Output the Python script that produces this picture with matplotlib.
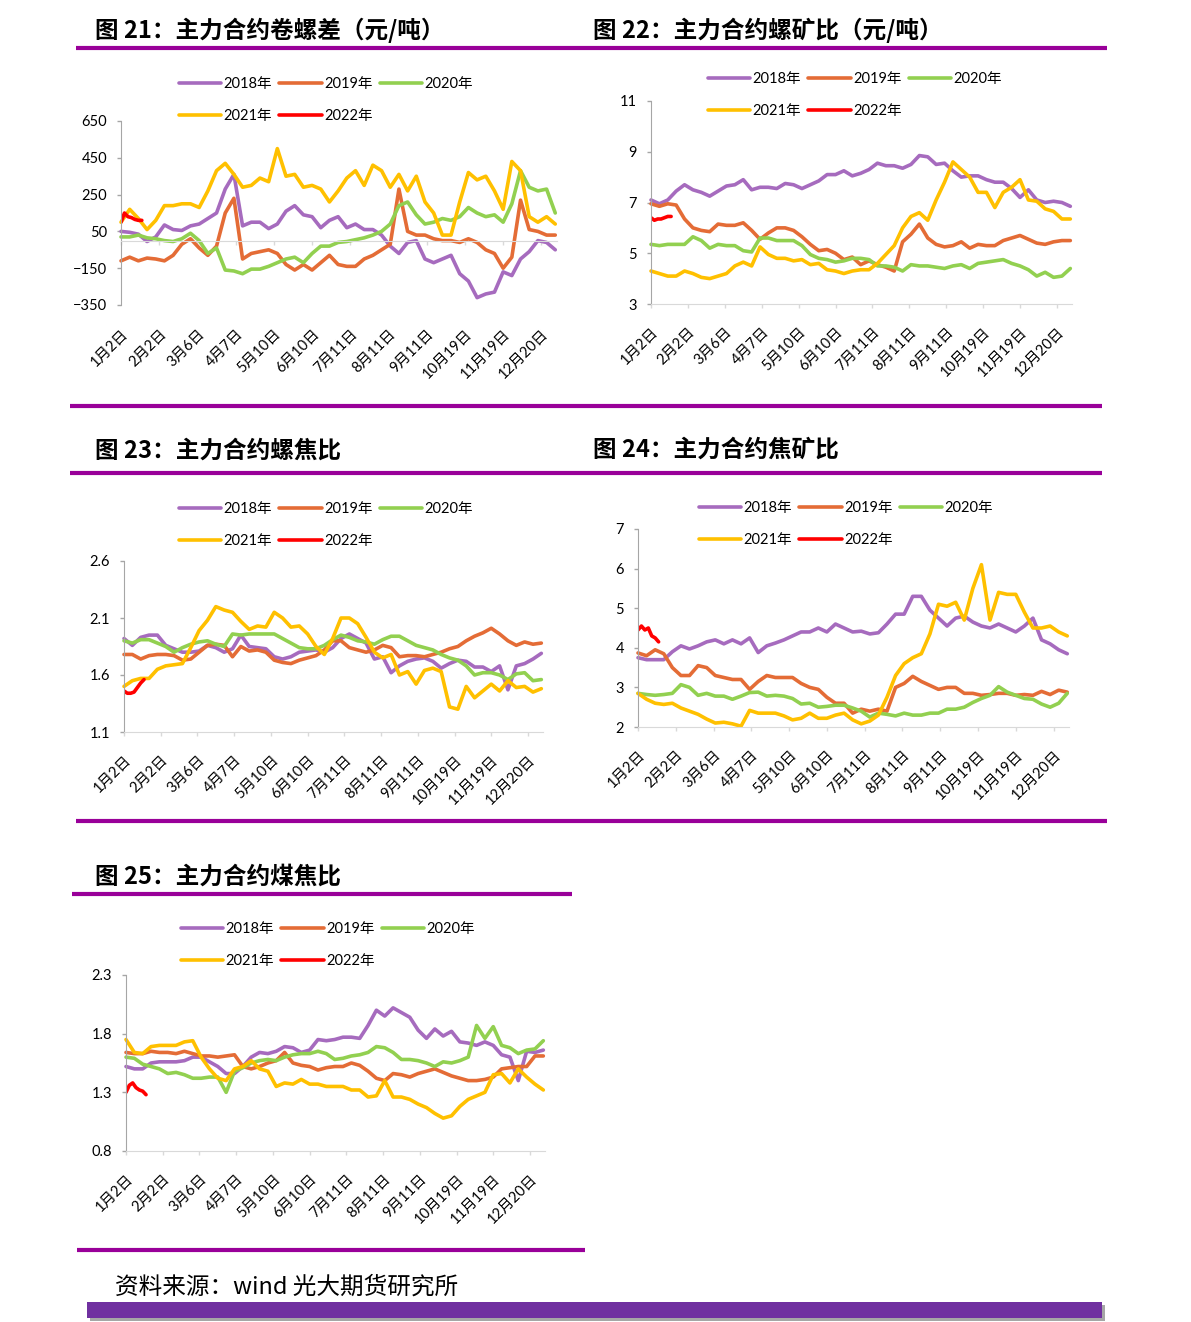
import numpy as np
import matplotlib.pyplot as plt
from matplotlib.lines import Line2D
from matplotlib.patches import Rectangle

plt.rcParams['font.family'] = ['Lato', 'Noto Sans CJK SC']
plt.rcParams['axes.unicode_minus'] = True

W, H = 1191, 1322

years = ['2018年', '2019年', '2020年', '2021年', '2022年']
colors = ['#A66BBE', '#E46C36', '#92D050', '#FFC000', '#FF0000']
tick_days = [0, 22, 44, 66, 88, 110, 132, 154, 176, 198, 220, 242]
tick_labels = ['1月2日', '2月2日', '3月6日', '4月7日', '5月10日', '6月10日',
               '7月11日', '8月11日', '9月11日', '10月19日', '11月19日', '12月20日']

step = 5                          # one value every 5 trading days
red_days = [0, 2, 4, 6, 8, 10, 12]

# 图21 卷螺差
jl_2018 = [50, 45, 35, -5, 20, 85, 60, 55, 80, 90, 120, 150, 280, 360, 80, 100, 100, 65, 90, 160,
           190, 140, 130, 70, 110, 130, 70, 90, 60, 60, 30, -30, -70, -10, 0, -100, -120, -100, -80, -180,
           -220, -310, -290, -280, -170, -190, -100, -60, 0, -10, -50]
jl_2019 = [-110, -90, -110, -95, -100, -110, -80, -20, 10, -40, -80, -30, 150, 230, -100, -70, -60, -50, -70, -130,
           -160, -130, -160, -120, -80, -130, -140, -140, -100, -80, -50, -20, 280, 50, 30, 30, 10, 0, 0, -10,
           10, -10, -50, -70, -150, -90, 220, 60, 50, 30, 30]
jl_2020 = [20, 20, 30, 15, 10, 0, -5, 10, 40, 0, -70, -40, -160, -165, -180, -155, -155, -140, -120, -100,
           -90, -120, -70, -30, -30, -10, -5, 5, 15, 30, 50, 90, 190, 210, 140, 90, 100, 120, 110, 130,
           180, 150, 130, 140, 100, 200, 380, 290, 270, 280, 150]
jl_2021 = [100, 170, 120, 60, 110, 190, 190, 200, 200, 180, 270, 380, 420, 360, 290, 300, 340, 320, 500, 350,
           360, 290, 300, 280, 210, 270, 340, 380, 300, 410, 380, 290, 360, 270, 350, 210, 150, 30, 30, 210,
           370, 330, 350, 270, 170, 430, 380, 130, 100, 130, 90]
jl_2022 = [100, 150, 130, 125, 115, 110, 110]

# 图22 螺矿比
lk_2018 = [7.1, 6.95, 7.1, 7.45, 7.7, 7.5, 7.4, 7.25, 7.45, 7.65, 7.7, 7.9, 7.5, 7.6, 7.6, 7.55, 7.75, 7.7, 7.55, 7.7,
           7.85, 8.1, 8.1, 8.25, 8.05, 8.15, 8.3, 8.55, 8.45, 8.45, 8.35, 8.5, 8.85, 8.8, 8.5, 8.55, 8.25, 8.0, 8.05, 8.05,
           7.9, 7.8, 7.8, 7.55, 7.2, 7.5, 7.1, 7.0, 7.05, 7.0, 6.85]
lk_2019 = [6.95, 6.85, 6.95, 6.9, 6.35, 6.0, 5.9, 5.85, 6.15, 6.1, 6.1, 6.2, 5.9, 5.55, 5.8, 6.0, 6.0, 5.9, 5.65, 5.35,
           5.1, 5.15, 5.0, 4.75, 4.85, 4.55, 4.7, 4.55, 4.45, 4.3, 5.45, 5.75, 6.15, 5.6, 5.35, 5.25, 5.3, 5.45, 5.2, 5.35,
           5.3, 5.3, 5.5, 5.6, 5.7, 5.55, 5.4, 5.35, 5.45, 5.5, 5.5]
lk_2020 = [5.35, 5.3, 5.35, 5.35, 5.35, 5.65, 5.5, 5.2, 5.35, 5.3, 5.3, 5.1, 5.05, 5.6, 5.6, 5.5, 5.5, 5.5, 5.3, 4.95,
           4.8, 4.75, 4.65, 4.7, 4.8, 4.8, 4.75, 4.5, 4.5, 4.45, 4.3, 4.55, 4.5, 4.5, 4.45, 4.4, 4.5, 4.55, 4.4, 4.6,
           4.65, 4.7, 4.75, 4.6, 4.5, 4.35, 4.1, 4.25, 4.05, 4.1, 4.4]
lk_2021 = [4.3, 4.2, 4.1, 4.1, 4.3, 4.2, 4.05, 4.0, 4.1, 4.2, 4.5, 4.65, 4.5, 5.25, 4.95, 4.8, 4.8, 4.7, 4.75, 4.55,
           4.6, 4.35, 4.3, 4.2, 4.3, 4.35, 4.35, 4.6, 4.95, 5.3, 6.0, 6.45, 6.6, 6.3, 7.1, 7.8, 8.6, 8.3, 8.0, 7.4,
           7.4, 6.8, 7.4, 7.6, 7.9, 7.1, 7.05, 6.75, 6.65, 6.35, 6.35]
lk_2022 = [6.4, 6.3, 6.35, 6.35, 6.4, 6.45, 6.45]

# 图23 螺焦比
lj_2018 = [1.92, 1.86, 1.93, 1.95, 1.95, 1.86, 1.83, 1.8, 1.8, 1.81, 1.86, 1.84, 1.8, 1.83, 1.95, 1.85, 1.84, 1.83, 1.76, 1.74,
           1.76, 1.8, 1.81, 1.82, 1.8, 1.84, 1.92, 1.96, 1.92, 1.88, 1.74, 1.76, 1.62, 1.68, 1.72, 1.74, 1.75, 1.72, 1.66, 1.7,
           1.73, 1.72, 1.67, 1.67, 1.63, 1.68, 1.47, 1.68, 1.7, 1.74, 1.79]
lj_2019 = [1.78, 1.78, 1.74, 1.77, 1.78, 1.78, 1.77, 1.73, 1.74, 1.8, 1.86, 1.87, 1.86, 1.76, 1.85, 1.81, 1.82, 1.8, 1.73, 1.71,
           1.7, 1.73, 1.75, 1.77, 1.82, 1.9, 1.9, 1.84, 1.82, 1.8, 1.82, 1.86, 1.84, 1.76, 1.77, 1.77, 1.76, 1.78, 1.8, 1.83,
           1.85, 1.9, 1.94, 1.97, 2.01, 1.96, 1.9, 1.86, 1.89, 1.87, 1.88]
lj_2020 = [1.9, 1.88, 1.91, 1.91, 1.88, 1.85, 1.8, 1.84, 1.87, 1.89, 1.9, 1.87, 1.85, 1.96, 1.95, 1.96, 1.96, 1.96, 1.96, 1.92,
           1.88, 1.84, 1.83, 1.83, 1.86, 1.91, 1.95, 1.93, 1.9, 1.89, 1.87, 1.91, 1.94, 1.94, 1.9, 1.86, 1.84, 1.82, 1.78, 1.75,
           1.73, 1.68, 1.6, 1.62, 1.62, 1.6, 1.56, 1.61, 1.62, 1.55, 1.56]
lj_2021 = [1.5, 1.55, 1.57, 1.57, 1.65, 1.68, 1.69, 1.7, 1.84, 1.99, 2.08, 2.2, 2.17, 2.15, 2.07, 2.0, 2.03, 2.02, 2.15, 2.1,
           2.02, 2.03, 1.96, 1.85, 1.78, 1.92, 2.1, 2.1, 2.05, 1.93, 1.8, 1.75, 1.78, 1.6, 1.63, 1.52, 1.64, 1.66, 1.63, 1.32,
           1.3, 1.5, 1.4, 1.46, 1.52, 1.46, 1.55, 1.49, 1.5, 1.45, 1.48]
lj_2022 = [1.46, 1.44, 1.44, 1.45, 1.49, 1.53, 1.56]

# 图24 焦矿比
jk_2018 = [3.75, 3.7, 3.7, 3.7, 3.9, 4.05, 3.97, 4.05, 4.15, 4.2, 4.1, 4.2, 4.1, 4.25, 3.88, 4.05, 4.12, 4.2, 4.3, 4.4,
           4.4, 4.5, 4.4, 4.6, 4.5, 4.4, 4.42, 4.35, 4.38, 4.6, 4.85, 4.85, 5.3, 5.3, 4.95, 4.75, 4.55, 4.75, 4.8, 4.65,
           4.55, 4.5, 4.6, 4.5, 4.4, 4.55, 4.75, 4.2, 4.1, 3.95, 3.85]
jk_2019 = [3.87, 3.8, 3.95, 3.85, 3.5, 3.3, 3.3, 3.55, 3.5, 3.3, 3.25, 3.2, 3.2, 2.95, 3.15, 3.3, 3.25, 3.25, 3.25, 3.1,
           3.0, 2.95, 2.75, 2.6, 2.6, 2.35, 2.45, 2.4, 2.45, 2.4, 3.0, 3.1, 3.28, 3.15, 3.05, 2.95, 3.0, 3.0, 2.85, 2.85,
           2.8, 2.82, 2.85, 2.85, 2.8, 2.82, 2.8, 2.9, 2.82, 2.93, 2.88]
jk_2020 = [2.85, 2.82, 2.8, 2.82, 2.85, 3.07, 3.0, 2.8, 2.85, 2.78, 2.78, 2.7, 2.78, 2.87, 2.88, 2.78, 2.8, 2.78, 2.72, 2.58,
           2.6, 2.5, 2.52, 2.55, 2.55, 2.48, 2.4, 2.25, 2.35, 2.32, 2.28, 2.35, 2.3, 2.3, 2.35, 2.35, 2.45, 2.45, 2.5, 2.62,
           2.72, 2.8, 3.02, 2.88, 2.8, 2.72, 2.7, 2.58, 2.5, 2.6, 2.85]
jk_2021 = [2.85, 2.7, 2.6, 2.57, 2.6, 2.48, 2.4, 2.32, 2.2, 2.1, 2.12, 2.08, 2.02, 2.42, 2.35, 2.35, 2.35, 2.28, 2.18, 2.22,
           2.35, 2.22, 2.22, 2.3, 2.35, 2.18, 2.08, 2.15, 2.3, 2.75, 3.3, 3.6, 3.75, 3.85, 4.35, 5.1, 5.05, 5.15, 4.7, 5.5,
           6.1, 4.7, 5.4, 5.35, 5.35, 4.9, 4.5, 4.5, 4.55, 4.4, 4.3]
jk_2022 = [4.45, 4.55, 4.45, 4.5, 4.3, 4.25, 4.15]

# 图25 煤焦比
mj_2018 = [1.52, 1.5, 1.5, 1.55, 1.56, 1.56, 1.56, 1.57, 1.6, 1.6, 1.56, 1.52, 1.46, 1.46, 1.52, 1.6, 1.64, 1.63, 1.65, 1.69,
           1.68, 1.64, 1.66, 1.75, 1.74, 1.75, 1.77, 1.77, 1.76, 1.87, 2.0, 1.95, 2.02, 1.98, 1.94, 1.83, 1.76, 1.84, 1.78, 1.82,
           1.73, 1.72, 1.7, 1.73, 1.7, 1.62, 1.6, 1.4, 1.65, 1.64, 1.66]
mj_2019 = [1.64, 1.63, 1.63, 1.65, 1.64, 1.64, 1.63, 1.65, 1.63, 1.61, 1.61, 1.6, 1.61, 1.62, 1.52, 1.5, 1.52, 1.55, 1.57, 1.64,
           1.55, 1.53, 1.52, 1.49, 1.51, 1.52, 1.52, 1.55, 1.53, 1.48, 1.42, 1.4, 1.46, 1.45, 1.43, 1.46, 1.48, 1.5, 1.47, 1.44,
           1.42, 1.4, 1.4, 1.41, 1.43, 1.5, 1.51, 1.52, 1.52, 1.61, 1.61]
mj_2020 = [1.6, 1.59, 1.54, 1.52, 1.5, 1.46, 1.47, 1.45, 1.42, 1.42, 1.43, 1.43, 1.3, 1.48, 1.51, 1.55, 1.57, 1.58, 1.57, 1.6,
           1.62, 1.63, 1.63, 1.65, 1.63, 1.58, 1.59, 1.61, 1.62, 1.64, 1.69, 1.68, 1.64, 1.58, 1.58, 1.57, 1.55, 1.52, 1.56, 1.55,
           1.57, 1.6, 1.87, 1.76, 1.86, 1.7, 1.68, 1.63, 1.66, 1.67, 1.74]
mj_2021 = [1.75, 1.64, 1.63, 1.69, 1.7, 1.7, 1.7, 1.73, 1.74, 1.6, 1.5, 1.42, 1.4, 1.5, 1.52, 1.57, 1.5, 1.48, 1.35, 1.38,
           1.37, 1.41, 1.37, 1.37, 1.35, 1.35, 1.35, 1.32, 1.32, 1.26, 1.27, 1.4, 1.26, 1.26, 1.24, 1.2, 1.17, 1.12, 1.08, 1.1,
           1.18, 1.24, 1.27, 1.3, 1.45, 1.46, 1.38, 1.5, 1.43, 1.37, 1.32]
mj_2022 = [1.3, 1.36, 1.38, 1.34, 1.32, 1.31, 1.28]

fig = plt.figure(figsize=(W / 100, H / 100), dpi=100)


def px_rect(l, t, r, b):
    return [l / W, 1 - b / H, (r - l) / W, (b - t) / H]


def hline(x0, x1, y, color='#990099', lw=3.0):
    fig.add_artist(Line2D([x0 / W, x1 / W], [1 - y / H, 1 - y / H], color=color, lw=lw,
                          solid_capstyle='butt'))


def draw_panel(rect, series, red, ylim, yticks, leg_xy, zero_line=False):
    ax = fig.add_axes(px_rect(*rect))
    for s in ['top', 'right']:
        ax.spines[s].set_visible(False)
    pad_x = 12
    if zero_line:
        # category axis crosses at 0, labels stay at the bottom
        ax.spines['bottom'].set_position(('data', 0))
        pad_x = 59
    for vals, c, name in zip(series, colors, years):
        ax.plot(np.arange(len(vals)) * step, vals, color=c, lw=2.6, label=name,
                solid_joinstyle='round', solid_capstyle='round', clip_on=False)
    ax.plot(red_days, red, color=colors[4], lw=2.6, label=years[4],
            solid_joinstyle='round', solid_capstyle='round')
    ax.set_xlim(0, 251)
    ax.set_ylim(*ylim)
    ax.set_yticks(yticks)
    ax.set_yticklabels([f'{v:g}'.replace('-', '\u2212') for v in yticks])
    ax.set_xticks(tick_days)
    ax.set_xticklabels(tick_labels, rotation=45, ha='right', va='top', rotation_mode='anchor')
    ax.spines['left'].set_color('#A6A6A6')
    ax.spines['bottom'].set_color('#D9D9D9')
    ax.tick_params(axis='y', length=3, width=1, color='#A6A6A6', pad=7, labelsize=10.5)
    ax.tick_params(axis='x', length=3, width=1, color='#D9D9D9', pad=pad_x, labelsize=10.5)

    h, l = ax.get_legend_handles_labels()
    order = [0, 3, 1, 4, 2]   # row-wise: 2018 2019 2020 / 2021 2022
    ax.legend([h[i] for i in order], [l[i] for i in order], ncol=3, loc='center',
              bbox_to_anchor=(leg_xy[0] / W, 1 - leg_xy[1] / H), bbox_transform=fig.transFigure,
              frameon=False, fontsize=10.5, handlelength=2.9, handletextpad=0.15,
              columnspacing=0.5, labelspacing=1.2, borderpad=0)
    return ax


# titles
title_kw = dict(fontsize=17, fontweight='bold', va='center', ha='left', family=['Noto Sans CJK SC'])
fig.text(95 / W, 1 - 30 / H, '图 21：主力合约卷螺差（元/吨）', **title_kw)
fig.text(593 / W, 1 - 30 / H, '图 22：主力合约螺矿比（元/吨）', **title_kw)
fig.text(95 / W, 1 - 451 / H, '图 23：主力合约螺焦比', **title_kw)
fig.text(593 / W, 1 - 450 / H, '图 24：主力合约焦矿比', **title_kw)
fig.text(95 / W, 1 - 877 / H, '图 25：主力合约煤焦比', **title_kw)

# separator lines
hline(76, 1107, 48)
hline(70, 1102, 406)
hline(70, 1102, 473)
hline(76, 1107, 821)
hline(72, 572, 894)
hline(77, 585, 1250)

draw_panel((121, 121, 557, 305), [jl_2018, jl_2019, jl_2020, jl_2021], jl_2022,
           (-350, 650), [-350, -150, 50, 250, 450, 650], (326, 100), zero_line=True)
draw_panel((651, 101, 1072, 304), [lk_2018, lk_2019, lk_2020, lk_2021], lk_2022,
           (3, 11), [3, 5, 7, 9, 11], (855, 95))
draw_panel((124, 561, 543, 732), [lj_2018, lj_2019, lj_2020, lj_2021], lj_2022,
           (1.1, 2.6), [1.1, 1.6, 2.1, 2.6], (326, 525))
draw_panel((638, 529, 1069, 727), [jk_2018, jk_2019, jk_2020, jk_2021], jk_2022,
           (2, 7), [2, 3, 4, 5, 6, 7], (846, 524))
draw_panel((126, 975, 545, 1151), [mj_2018, mj_2019, mj_2020, mj_2021], mj_2022,
           (0.8, 2.3), [0.8, 1.3, 1.8, 2.3], (328, 945))

# footer
fig.text(115 / W, 1 - 1287 / H, '资料来源：wind 光大期货研究所', fontsize=17,
         va='center', ha='left', family=['Noto Sans CJK SC'])
fig.add_artist(Rectangle((90 / W, 1 - 1321 / H), 1015 / W, 16 / H, color='#A6A6A6', lw=0))
fig.add_artist(Rectangle((87 / W, 1 - 1318 / H), 1015 / W, 16 / H, color='#7030A0', lw=0))

fig.savefig('out.png', dpi=100)
